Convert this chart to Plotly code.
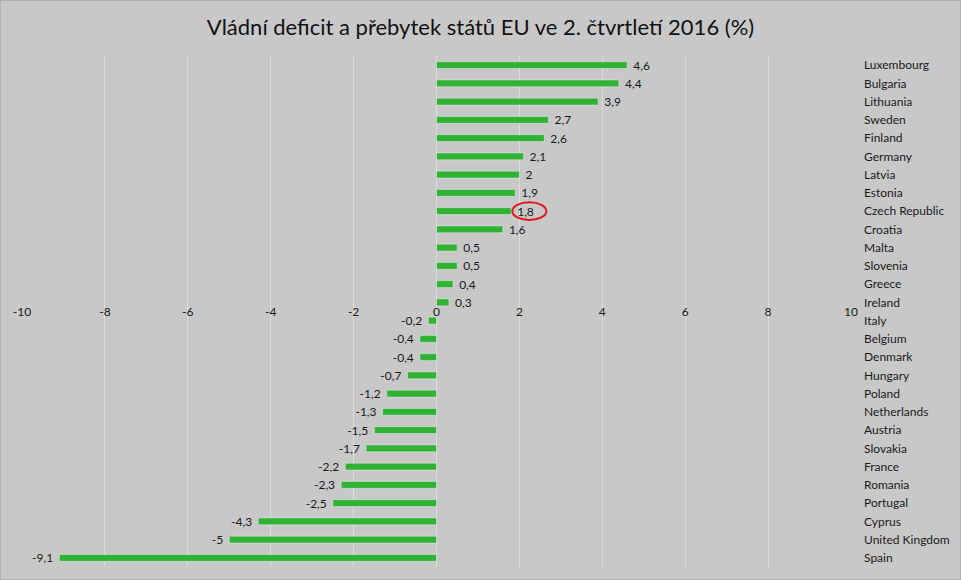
import plotly.graph_objects as go

countries = ["Luxembourg", "Bulgaria", "Lithuania", "Sweden", "Finland", "Germany",
             "Latvia", "Estonia", "Czech Republic", "Croatia", "Malta", "Slovenia",
             "Greece", "Ireland", "Italy", "Belgium", "Denmark", "Hungary", "Poland",
             "Netherlands", "Austria", "Slovakia", "France", "Romania", "Portugal",
             "Cyprus", "United Kingdom", "Spain"]
balance = [4.6, 4.4, 3.9, 2.7, 2.6, 2.1, 2, 1.9, 1.8, 1.6, 0.5, 0.5, 0.4, 0.3,
           -0.2, -0.4, -0.4, -0.7, -1.2, -1.3, -1.5, -1.7, -2.2, -2.3, -2.5,
           -4.3, -5, -9.1]
tick_vals = [-10, -8, -6, -4, -2, 0, 2, 4, 6, 8, 10]
tick_text = [str(v) for v in tick_vals]
highlight = "Czech Republic"

# czech style decimal comma, little padding away from the bar end
nb = "\u00a0"
labels = [(nb + f"{v:g}" if v > 0 else f"{v:g}" + nb).replace(".", ",") for v in balance]
font = "Lato"

fig = go.Figure(go.Bar(
    x=balance, y=countries, orientation="h",
    marker_color="#31B232", width=0.38,
    text=labels, textposition="outside", constraintext="none",
    textangle=0, cliponaxis=False,
    textfont=dict(family=font, size=12, color="#1a1a1a"),
))

# red ring around the highlighted label
i = countries.index(highlight)
v = balance[i]
fig.add_shape(type="circle", xref="x", yref="y",
              x0=v + 0.03, x1=v + 0.85, y0=i - 0.48, y1=i + 0.48,
              line=dict(color="#E3161B", width=2))

fig.update_layout(
    width=961, height=580,
    margin=dict(l=22, r=110, t=56, b=13),
    paper_bgcolor="#C8C8C8", plot_bgcolor="#C8C8C8",
    title=dict(text="Vládní deficit a přebytek států EU ve 2. čtvrtletí 2016 (%)",
               x=0.5, xanchor="center", y=0.953, yanchor="middle",
               font=dict(family=font, size=22, color="#111")),
    showlegend=False,
)
fig.update_xaxes(range=[-10, 10], tickvals=tick_vals, ticktext=tick_text,
                 showgrid=True, gridcolor="#DCDCDC", gridwidth=1, zeroline=False,
                 showline=False, ticks="", anchor="free", position=0.516,
                 automargin=False,
                 tickfont=dict(family=font, size=12, color="#1a1a1a"))
fig.update_yaxes(type="category", autorange="reversed", side="right",
                 showgrid=False, zeroline=False, showline=False, ticks="",
                 ticklabelstandoff=12, automargin=False,
                 tickfont=dict(family=font, size=12, color="#1a1a1a"))

fig.add_shape(type="rect", xref="paper", yref="paper", x0=-22/829, x1=1 + 110/829,
              y0=-13/511, y1=1 + 56/511, line=dict(color="#9A9A9A", width=1), layer="below")

fig.write_html("out.html", config={"displayModeBar": False},
               post_script="document.body.style.margin='0';")
